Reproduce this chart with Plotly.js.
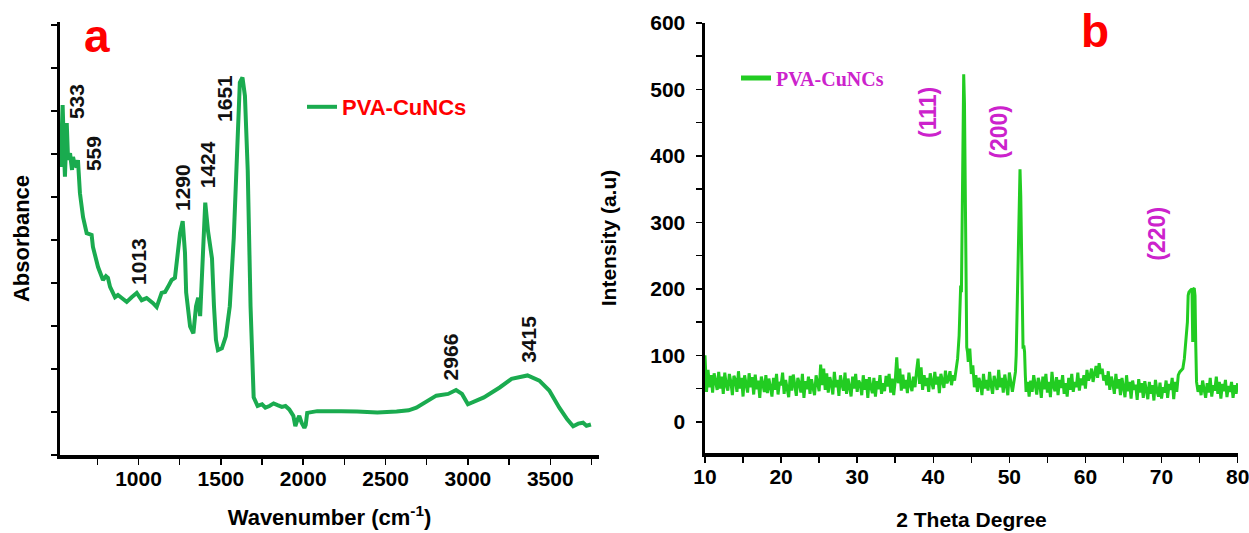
<!DOCTYPE html>
<html>
<head>
<meta charset="utf-8">
<script src="https://cdn.plot.ly/plotly-3.0.1.min.js"></script>
<style>html,body{margin:0;padding:0;background:#fff;}#chart{width:1249px;height:533px;}</style>
</head>
<body>
<div id="chart"></div>
<script>
// ---------- Panel a : FTIR ----------
const ftirWavenumber = [527,539,547,553,564,572,584,596,602,614,624,632,644,663,685,715,723,754,784,802,814,827,857,875,898,928,958,989,1019,1049,1088,1110,1140,1161,1179,1201,1221,1239,1252,1268,1282,1289,1313,1333,1349,1362,1374,1386,1405,1422,1434,1446,1458,1470,1482,1506,1530,1554,1578,1603,1615,1631,1646,1663,1680,1699,1723,1750,1770,1795,1820,1844,1870,1892,1915,1940,1952,1965,1976,1990,2007,2015,2024,2085,2150,2230,2326,2450,2567,2640,2687,2759,2808,2880,2928,2964,3000,3097,3193,3265,3362,3434,3494,3555,3603,3639,3670,3699,3720,3747];
const ftirAbsorbance = [6.70,8.14,7.09,6.47,7.72,6.86,7.02,6.63,6.93,6.74,6.70,6.86,6.09,5.53,5.16,5.12,4.84,4.37,4.07,4.16,4.12,3.91,3.67,3.72,3.65,3.56,3.67,3.77,3.60,3.65,3.53,3.44,3.77,3.79,3.91,4.07,4.12,4.70,5.16,5.44,4.70,3.78,2.99,2.83,3.46,3.66,3.23,4.25,5.87,5.20,4.80,4.57,3.46,2.68,2.44,2.48,2.76,3.46,5.04,7.80,8.66,8.78,8.35,6.61,3.46,1.34,1.14,1.18,1.10,1.14,1.20,1.16,1.12,1.14,1.06,0.91,0.67,0.82,0.91,0.75,0.63,0.70,0.98,1.02,1.01,1.02,1.01,0.99,1.01,1.04,1.10,1.26,1.38,1.42,1.51,1.42,1.18,1.34,1.57,1.77,1.85,1.73,1.50,1.10,0.83,0.67,0.73,0.75,0.68,0.71];
const ftirPeakLabels = ['533','559','1013','1290','1424','1651','2966','3415'];
const ftirLabelX = [620,723,1003,1270,1416,1525,2900,3370];
const ftirLabelY = [8.23,7.02,4.49,6.21,6.74,8.28,2.28,2.70];

// ---------- Panel b : XRD ----------
const xrdStep = 0.2;
const xrdSeg1Start = 10.0;
const xrdSeg1Y = [100,45,78,52,70,44,73,58,48,75, 50,68,42,74,55,47,72,60,40,69, 63,45,76,50,66,38,70,57,44,73, 52,67,41,71,49,62,36,68,54,45, 70,43,65,52,38,66,48,72,41,60, 55,74,42,63,50,37,69,47,71,53, 39,66,58,44,72,36,61,49,68,42, 64,51,40,70,57,46,86,55,80,48, 73,44,67,58,41,75,52,63,39,70, 56,47,74,42,65,53,38,68,50,72, 45,62,57,40,70,48,64,36,67,52, 43,66,38,61,49,70,42,58,46,69, 53,72,44,65,40,62,97,58,80,47, 71,50,63,43,74,55,46,68,52,76, 95,57,82,48,70,54,66,45,73,59, 49,75,56,68,43,72,60,51,77,58, 64,76,55,70,62];
const xrdPeak111X = [43.0,43.2,43.4,43.5,43.6,43.7,43.8,43.9,44.0,44.1,44.2,44.3,44.4,44.5,44.6,44.8,45.0];
const xrdPeak111Y = [78,95,130,160,205,195,300,450,523,480,300,150,112,105,90,110,72];
const xrdSeg2Start = 45.2;
const xrdSeg2Y = [85,52,70,45,66,58,40,72,50,63, 47,75,55,42,69,60,48,78,52,66, 44,71,57,40,74,58,45];
const xrdPeak200X = [50.6,50.8,50.9,51.0,51.1,51.2,51.3,51.4,51.5,51.6,51.7,51.8,51.9,52.0,52.1,52.2,52.4];
const xrdPeak200Y = [60,75,100,160,230,300,360,380,340,250,160,110,115,105,70,45,60];
const xrdSeg3Start = 52.6;
const xrdSeg3Y = [38,62,45,70,52,41,66,56,36,68, 49,72,44,60,37,75,53,46,67,40, 63,51,70,42,58,38,66,48,72,45, 60,52,74,47,65,55,70,50,78,62, 68,80,60,75,84,66,88,72,80,62, 70,55,76,48,68,58,42,72,50,64, 40,66,52,37,70,46,60,35,62,48, 56,33,64,44,58,36,61,47,34,60, 42,55,32,63,46,38,59,35,52,44, 62,36,57,48,66,34,60,45,70];
const xrdPeak220X = [72.4,72.8,73.0,73.2,73.4,73.5,73.6,73.8,74.0,74.1,74.2,74.3,74.4,74.5,74.6,74.8,75.0];
const xrdPeak220Y = [75,80,95,120,150,190,195,198,200,120,200,201,190,115,60,45,55];
const xrdSeg4Start = 75.2;
const xrdSeg4Y = [40,62,48,36,58,44,66,38,55,47, 68,42,60,35,57,46,63,37,54,45, 60,36,55,42,58];
const xrdPlaneLabels = ['(111)','(200)','(220)'];
const xrdLabelX = [39.3,48.6,69.4];
const xrdLabelY = [466,436,283];

// ---------- build XRD series from the read segments ----------
function segX(start, ys){ return ys.map((_, i) => Math.round((start + i * xrdStep) * 10) / 10); }
const xrdX = [].concat(segX(xrdSeg1Start, xrdSeg1Y), xrdPeak111X, segX(xrdSeg2Start, xrdSeg2Y), xrdPeak200X, segX(xrdSeg3Start, xrdSeg3Y), xrdPeak220X, segX(xrdSeg4Start, xrdSeg4Y));
const xrdY = [].concat(xrdSeg1Y, xrdPeak111Y, xrdSeg2Y, xrdPeak200Y, xrdSeg3Y, xrdPeak220Y, xrdSeg4Y);

const W = 1249, H = 533;
const sans = 'Liberation Sans, Arial, sans-serif';
const ftirGreen = '#1aab4f';
const xrdGreen = '#22cc22';
const magenta = '#cc22cc';

const traces = [
  {x: ftirWavenumber, y: ftirAbsorbance, type: 'scatter', mode: 'lines', name: 'PVA-CuNCs',
   line: {color: ftirGreen, width: 4}, xaxis: 'x', yaxis: 'y', legend: 'legend', hoverinfo: 'skip'},
  {x: xrdX, y: xrdY, type: 'scatter', mode: 'lines', name: 'PVA-CuNCs',
   line: {color: xrdGreen, width: 3}, xaxis: 'x2', yaxis: 'y2', showlegend: false, hoverinfo: 'skip'},
  {x: [null], y: [null], type: 'scatter', mode: 'lines', name: 'PVA-CuNCs',
   line: {color: xrdGreen, width: 5}, xaxis: 'x2', yaxis: 'y2', legend: 'legend2', hoverinfo: 'skip'}
];

const tickFont = {family: sans, size: 21, color: '#000', weight: 'bold'};
const titleFont = {family: sans, size: 22, color: '#000', weight: 'bold'};
function axisBase(){
  return {showgrid: false, zeroline: false, showline: true, linecolor: '#000', linewidth: 3.5,
          ticks: 'outside', ticklen: 6, tickwidth: 1.5, tickcolor: '#000', automargin: false,
          ticklabeloverflow: 'allow', tickfont: tickFont, fixedrange: true};
}

const annotations = [];
ftirPeakLabels.forEach((t, i) => annotations.push({
  text: t, x: ftirLabelX[i], y: ftirLabelY[i], xref: 'x', yref: 'y', showarrow: false,
  textangle: -90, xanchor: 'center', yanchor: 'middle',
  font: {family: sans, size: 21, color: '#111', weight: 'bold'}
}));
xrdPlaneLabels.forEach((t, i) => annotations.push({
  text: t, x: xrdLabelX[i], y: xrdLabelY[i], xref: 'x2', yref: 'y2', showarrow: false,
  textangle: -90, xanchor: 'center', yanchor: 'middle',
  font: {family: sans, size: 23, color: magenta, weight: 'bold'}
}));
annotations.push({text: 'a', x: 97 / W, y: 1 - 36 / H, xref: 'paper', yref: 'paper', showarrow: false,
  xanchor: 'center', yanchor: 'middle', font: {family: sans, size: 46, color: '#ff0000', weight: 'bold'}});
annotations.push({text: 'b', x: 1095 / W, y: 1 - 31 / H, xref: 'paper', yref: 'paper', showarrow: false,
  xanchor: 'center', yanchor: 'middle', font: {family: sans, size: 46, color: '#ff0000', weight: 'bold'}});

const layout = {
  width: W, height: H,
  margin: {l: 0, r: 0, t: 0, b: 0},
  paper_bgcolor: '#fff', plot_bgcolor: '#fff',
  showlegend: true,
  xaxis: Object.assign(axisBase(), {
    domain: [60 / W, 599 / W], range: [523, 3796], anchor: 'y',
    tick0: 0, dtick: 500, ticklabelstandoff: -4,
    minor: {dtick: 250, ticks: 'outside', ticklen: 6, tickwidth: 1.5, tickcolor: '#000'},
    title: {text: 'Wavenumber (cm<sup>-1</sup>)', font: titleFont, standoff: 22}
  }),
  yaxis: Object.assign(axisBase(), {
    domain: [1 - 455 / H, 1 - 22 / H], range: [0, 10.07], anchor: 'x',
    tick0: 0, dtick: 1, showticklabels: false,
    title: {text: 'Absorbance', font: titleFont, standoff: 16}
  }),
  xaxis2: Object.assign(axisBase(), {
    domain: [705 / W, 1238 / W], range: [10, 80.05], anchor: 'y2',
    tick0: 0, dtick: 10, ticklabelstandoff: -4,
    minor: {dtick: 5, ticks: 'outside', ticklen: 6, tickwidth: 1.5, tickcolor: '#000'},
    title: {text: '2 Theta Degree', font: Object.assign({}, titleFont, {size: 21}), standoff: 26}
  }),
  yaxis2: Object.assign(axisBase(), {
    domain: [1 - 453 / H, 1 - 23 / H], range: [-47, 600], anchor: 'x2',
    tick0: 0, dtick: 100, ticklabelstandoff: 6,
    minor: {dtick: 50, ticks: 'outside', ticklen: 6, tickwidth: 1.5, tickcolor: '#000'},
    title: {text: 'Intensity (a.u)', font: Object.assign({}, titleFont, {size: 21}), standoff: 29}
  }),
  legend: {x: 302 / W, y: 1 - 107 / H, xanchor: 'left', yanchor: 'middle', bgcolor: 'rgba(0,0,0,0)',
           borderwidth: 0, font: {family: sans, size: 22, color: '#ff0000', weight: 'bold'}},
  legend2: {x: 736 / W, y: 1 - 78 / H, xanchor: 'left', yanchor: 'middle', bgcolor: 'rgba(0,0,0,0)',
           borderwidth: 0, font: {family: 'Liberation Serif, Times New Roman, serif', size: 20, color: magenta, weight: 'bold'}},
  annotations: annotations
};

Plotly.newPlot('chart', traces, layout, {staticPlot: true, displayModeBar: false});
</script>
</body>
</html>
